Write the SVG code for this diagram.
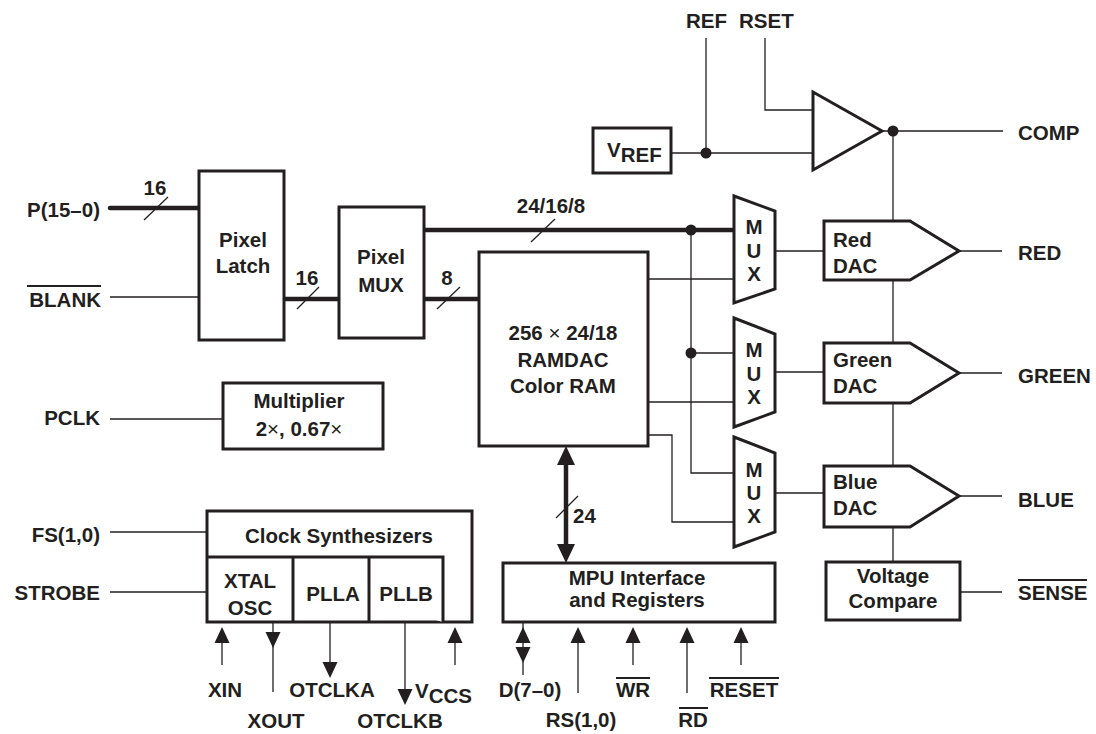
<svg xmlns="http://www.w3.org/2000/svg" width="1096" height="734" viewBox="0 0 1096 734">
<style>
.t{font-family:"Liberation Sans",Arial,Helvetica,sans-serif;font-weight:bold;font-size:20.5px;fill:#231f20}
.m{text-anchor:middle}
.e{text-anchor:end}
.box{fill:#fff;stroke:#231f20;stroke-width:3;stroke-linejoin:miter}
.w{fill:none;stroke:#231f20;stroke-width:1.3}
.bus{fill:none;stroke:#231f20;stroke-width:4.5}
.ol{stroke:#231f20;stroke-width:2}
.ah{fill:#231f20;stroke:none}
.x{font-weight:normal}
</style>
<rect width="1096" height="734" fill="#fff"/>
<g id="connectors">
  <line class="bus" x1="110" y1="208" x2="199" y2="208" stroke-linecap="round"/>
  <line class="w" x1="144" y1="220" x2="168" y2="197"/>
  <line class="w" x1="110" y1="297" x2="199" y2="297"/>
  <line class="bus" x1="284" y1="299" x2="339" y2="299"/>
  <line class="w" x1="297" y1="309" x2="319" y2="287"/>
  <line class="bus" x1="424" y1="299" x2="479" y2="299"/>
  <line class="w" x1="437" y1="309" x2="460" y2="287"/>
  <line class="bus" x1="424" y1="230" x2="734" y2="230"/>
  <line class="w" x1="531" y1="242" x2="555" y2="219"/>
  <line class="w" x1="110" y1="419" x2="223" y2="419"/>
  <line class="w" x1="110" y1="532" x2="207" y2="532"/>
  <line class="w" x1="110" y1="592" x2="207" y2="592"/>
  <line class="w" x1="648" y1="279" x2="734" y2="279"/>
  <polyline class="w" points="691,230 691,473 734,473"/>
  <line class="w" x1="691" y1="353" x2="734" y2="353"/>
  <line class="w" x1="648" y1="402" x2="734" y2="402"/>
  <polyline class="w" points="648,435 672,435 672,522 734,522"/>
  <line class="w" x1="775" y1="251" x2="824" y2="251"/>
  <line class="w" x1="775" y1="372" x2="824" y2="372" stroke-width="2.2"/>
  <line class="w" x1="775" y1="493" x2="824" y2="493"/>
  <line class="w" x1="893" y1="131" x2="893" y2="562"/>
  <line class="w" x1="959" y1="251" x2="1002" y2="251"/>
  <line class="w" x1="959" y1="373" x2="1002" y2="373"/>
  <line class="w" x1="959" y1="496" x2="1002" y2="496"/>
  <line class="w" x1="960" y1="592" x2="1002" y2="592"/>
  <line class="w" x1="882" y1="131" x2="1003" y2="131"/>
  <line class="w" x1="706" y1="38" x2="706" y2="153"/>
  <polyline class="w" points="765,38 765,110 813,110"/>
  <line class="w" x1="671" y1="153" x2="813" y2="153"/>
  <circle class="ah" cx="706" cy="153" r="5.5"/>
  <circle class="ah" cx="893" cy="131" r="5.5"/>
  <circle class="ah" cx="691" cy="230" r="5.5"/>
  <circle class="ah" cx="691" cy="353" r="5.5"/>
  <line class="bus" x1="566" y1="462" x2="566" y2="547"/>
  <polygon class="ah" points="566,446 557,465 575,465"/>
  <polygon class="ah" points="566,563 557,544 575,544"/>
  <line class="w" x1="556" y1="518" x2="578" y2="496"/>
  <!-- clock pins -->
  <line class="w" x1="222" y1="640" x2="222" y2="665"/>
  <polygon class="ah" points="222,627 214.5,643 229.5,643"/>
  <line class="w" x1="273" y1="622" x2="273" y2="692"/>
  <polygon class="ah" points="273,648 265.5,632 280.5,632"/>
  <line class="w" x1="330" y1="622" x2="330" y2="665"/>
  <polygon class="ah" points="330,678 322.5,662 337.5,662"/>
  <line class="w" x1="405" y1="622" x2="405" y2="692"/>
  <polygon class="ah" points="405,705 397.5,689 412.5,689"/>
  <line class="w" x1="455" y1="640" x2="455" y2="665"/>
  <polygon class="ah" points="455,627 447.5,643 462.5,643"/>
  <!-- MPU pins -->
  <line class="w" x1="523" y1="622" x2="523" y2="675"/>
  <polygon class="ah" points="523,627 515.5,643 530.5,643"/>
  <polygon class="ah" points="523,663 515.5,647 530.5,647"/>
  <line class="w" x1="578" y1="640" x2="578" y2="693"/>
  <polygon class="ah" points="578,627 570.5,643 585.5,643"/>
  <line class="w" x1="633" y1="640" x2="633" y2="665"/>
  <polygon class="ah" points="633,627 625.5,643 640.5,643"/>
  <line class="w" x1="687" y1="640" x2="687" y2="693"/>
  <polygon class="ah" points="687,627 679.5,643 694.5,643"/>
  <line class="w" x1="741" y1="640" x2="741" y2="665"/>
  <polygon class="ah" points="741,627 733.5,643 748.5,643"/>
</g>
<g id="pixel-latch">
  <rect class="box" x="199" y="171" width="85" height="169"/>
  <text class="t m" x="243" y="247">Pixel</text>
  <text class="t m" x="243" y="273">Latch</text>
</g>
<g id="pixel-mux">
  <rect class="box" x="339" y="207" width="85" height="131"/>
  <text class="t m" x="381" y="264">Pixel</text>
  <text class="t m" x="381" y="292">MUX</text>
</g>
<g id="ramdac">
  <rect class="box" x="479" y="252" width="169" height="194"/>
  <text class="t m" x="563" y="340">256 <tspan class="x">×</tspan> 24/18</text>
  <text class="t m" x="563" y="367">RAMDAC</text>
  <text class="t m" x="563" y="393">Color RAM</text>
</g>
<g id="multiplier">
  <rect class="box" x="223" y="383" width="160" height="66"/>
  <text class="t m" x="299" y="408">Multiplier</text>
  <text class="t m" x="299" y="436">2<tspan class="x">×</tspan>, 0.67<tspan class="x">×</tspan></text>
</g>
<g id="clock-synth">
  <rect class="box" x="207" y="511" width="265" height="111"/>
  <polyline class="box" fill="none" points="207,557 443,557 443,622"/>
  <line class="box" x1="293" y1="557" x2="293" y2="622"/>
  <line class="box" x1="369" y1="557" x2="369" y2="622"/>
  <text class="t m" x="339" y="543">Clock Synthesizers</text>
  <text class="t m" x="250" y="588">XTAL</text>
  <text class="t m" x="250" y="615">OSC</text>
  <text class="t m" x="333" y="601">PLLA</text>
  <text class="t m" x="406" y="601">PLLB</text>
</g>
<g id="mpu">
  <rect class="box" x="503" y="563" width="272" height="59"/>
  <text class="t m" x="637" y="585">MPU Interface</text>
  <text class="t m" x="637" y="607">and Registers</text>
</g>
<g id="vref">
  <rect class="box" x="593" y="128" width="78" height="45"/>
  <text class="t" x="607" y="157">V<tspan dy="5">REF</tspan></text>
</g>
<g id="comparator">
  <polygon class="box" points="813,92 813,170 882,131"/>
</g>
<g id="mux1">
  <polygon class="box" points="734,196 775,211 775,289 734,303"/>
  <text class="t m" x="754" y="234">M</text>
  <text class="t m" x="754" y="258">U</text>
  <text class="t m" x="754" y="281">X</text>
</g>
<g id="mux2">
  <polygon class="box" points="734,318 775,334 775,412 734,427"/>
  <text class="t m" x="754" y="357">M</text>
  <text class="t m" x="754" y="381">U</text>
  <text class="t m" x="754" y="404">X</text>
</g>
<g id="mux3">
  <polygon class="box" points="734,437 775,453 775,532 734,547"/>
  <text class="t m" x="754" y="477">M</text>
  <text class="t m" x="754" y="500">U</text>
  <text class="t m" x="754" y="523">X</text>
</g>
<g id="red-dac">
  <polygon class="box" points="824,221 910,221 959,251 910,280 824,280"/>
  <text class="t" x="833" y="247">Red</text>
  <text class="t" x="833" y="273">DAC</text>
</g>
<g id="green-dac">
  <polygon class="box" points="824,343 910,343 959,373 910,403 824,403"/>
  <text class="t" x="833" y="367">Green</text>
  <text class="t" x="833" y="393">DAC</text>
</g>
<g id="blue-dac">
  <polygon class="box" points="824,466 910,466 959,496 910,527 824,527"/>
  <text class="t" x="833" y="489">Blue</text>
  <text class="t" x="833" y="515">DAC</text>
</g>
<g id="voltage-compare">
  <rect class="box" x="826" y="562" width="134" height="58"/>
  <text class="t m" x="893" y="583">Voltage</text>
  <text class="t m" x="893" y="608">Compare</text>
</g>
<g id="labels">
  <text class="t" x="686" y="28">REF</text>
  <text class="t" x="739" y="28">RSET</text>
  <text class="t" x="1018" y="140">COMP</text>
  <text class="t" x="1018" y="260">RED</text>
  <text class="t" x="1018" y="383">GREEN</text>
  <text class="t" x="1018" y="507">BLUE</text>
  <text class="t" x="1018" y="600">SENSE</text>
  <line class="ol" x1="1018" y1="580" x2="1087" y2="580"/>
  <text class="t e" x="100" y="217">P(15–0)</text>
  <text class="t m" x="155" y="195">16</text>
  <text class="t e" x="101" y="307">BLANK</text>
  <line class="ol" x1="27" y1="286" x2="101" y2="286"/>
  <text class="t m" x="307" y="285">16</text>
  <text class="t m" x="447" y="285">8</text>
  <text class="t m" x="551" y="213">24/16/8</text>
  <text class="t" x="573" y="523">24</text>
  <text class="t e" x="100" y="425">PCLK</text>
  <text class="t e" x="100" y="542">FS(1,0)</text>
  <text class="t e" x="100" y="600">STROBE</text>
  <text class="t m" x="225" y="697">XIN</text>
  <text class="t m" x="276" y="728">XOUT</text>
  <text class="t m" x="332" y="697">OTCLKA</text>
  <text class="t m" x="400" y="728">OTCLKB</text>
  <text class="t" x="415" y="698">V<tspan dy="5">CCS</tspan></text>
  <text class="t m" x="530" y="697">D(7–0)</text>
  <text class="t m" x="581" y="727">RS(1,0)</text>
  <text class="t m" x="633" y="697">WR</text>
  <line class="ol" x1="616" y1="678" x2="650" y2="678"/>
  <text class="t m" x="693" y="727">RD</text>
  <line class="ol" x1="679" y1="708" x2="708" y2="708"/>
  <text class="t m" x="744" y="697">RESET</text>
  <line class="ol" x1="709" y1="678" x2="779" y2="678"/>
</g>
</svg>
